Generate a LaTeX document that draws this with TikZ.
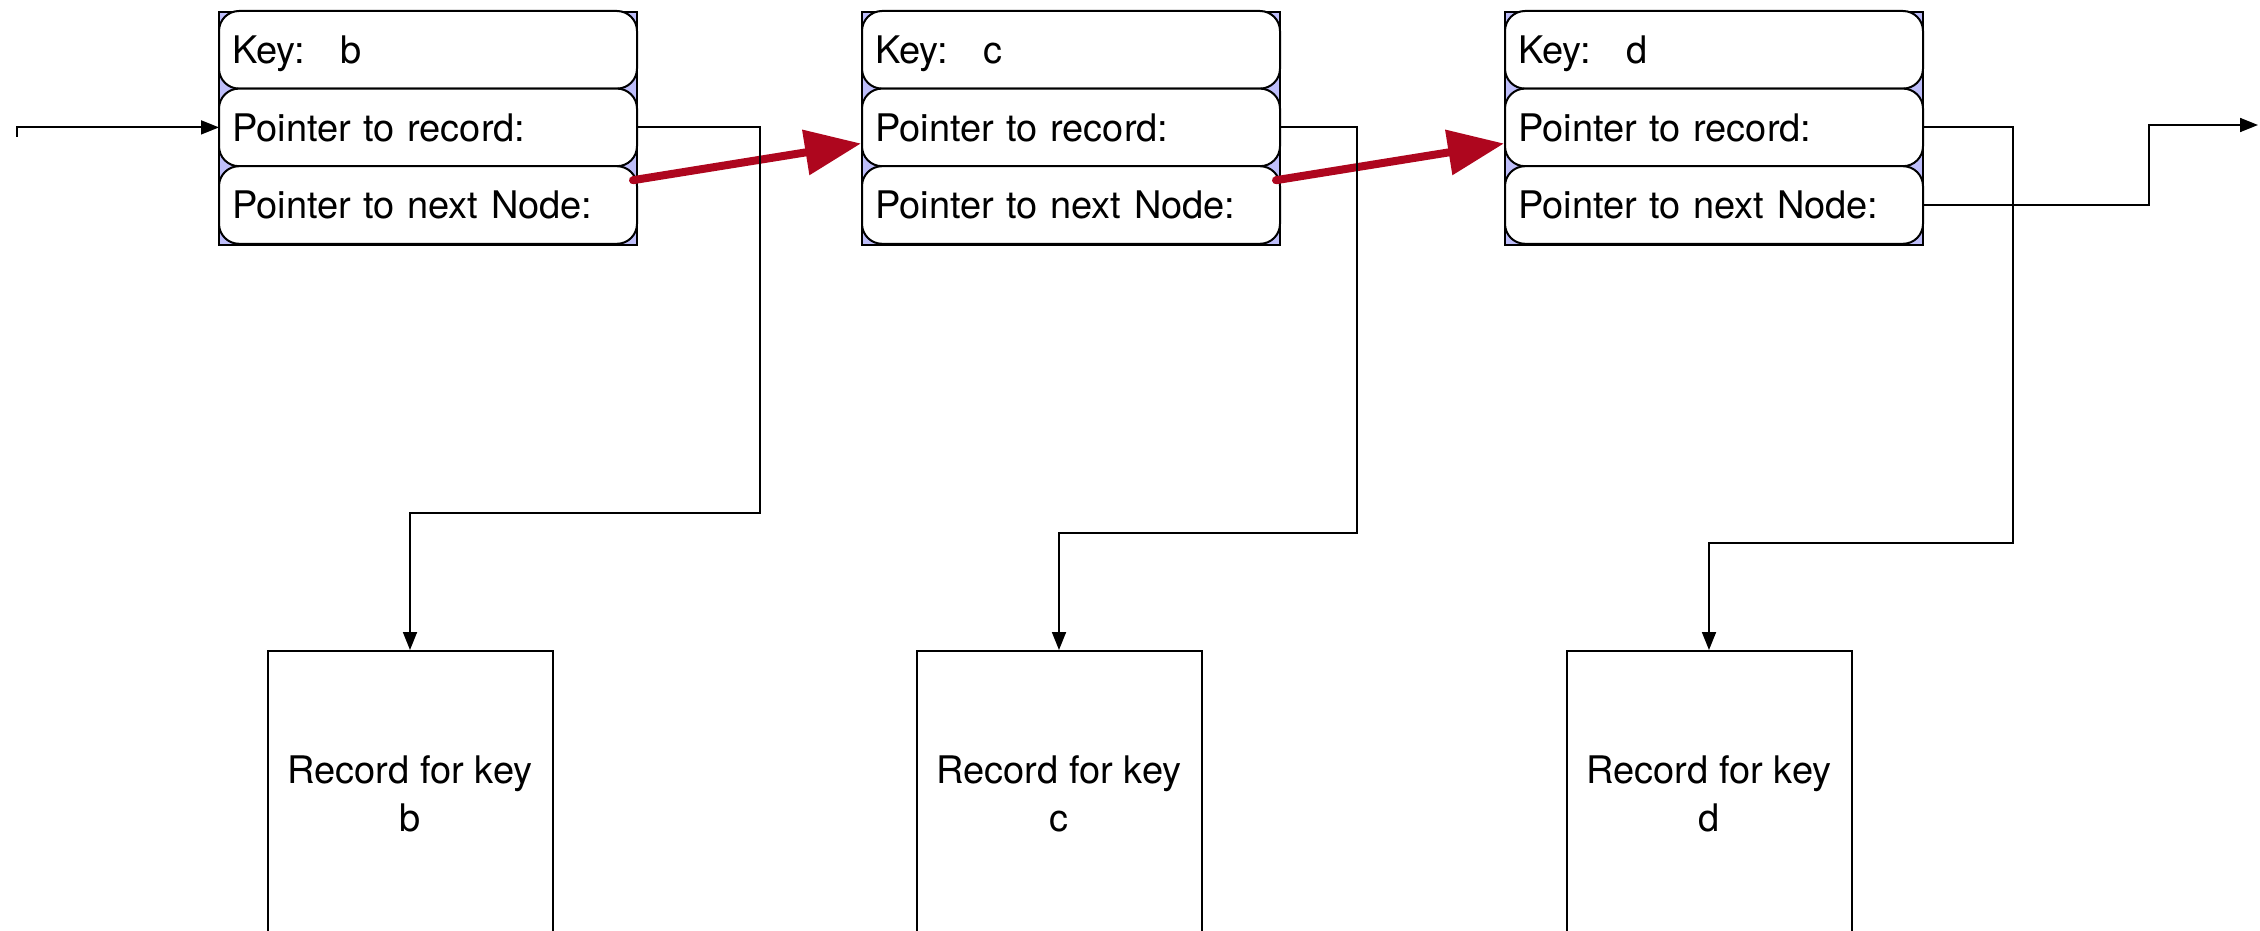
\documentclass[tikz,border=0pt]{standalone}
\usepackage{fontspec}
\setmainfont{TeX Gyre Heros}
\usetikzlibrary{positioning,calc,arrows.meta}
\definecolor{lav}{RGB}{190,190,250}
\definecolor{ptrred}{RGB}{174,6,30}

\begin{document}
\begin{tikzpicture}[x=1pt, y=-1pt,
    listnode/.style={draw, line width=2pt, fill=lav, minimum width=418pt, minimum height=233pt, inner sep=0pt},
    field/.style={draw, line width=2pt, fill=white, rounded corners=20pt, minimum height=77.6pt,
                  text width=392pt, text depth=0pt, inner xsep=13pt, inner ysep=0pt, outer sep=0pt, align=left,
                  font=\fontsize{38}{47.5}\selectfont},
    record/.style={draw, line width=2pt, minimum width=285pt, minimum height=286pt, align=center,
                   font=\fontsize{38}{47.5}\selectfont},
    ptr/.style={draw, line width=1.8pt, -{Triangle[length=18pt,width=14pt]}},
    nextptr/.style={draw=ptrred, line width=8pt, line cap=round, -{Triangle[length=56pt,width=44pt]}}]
  \useasboundingbox (0,0) rectangle (2260,931);

  % list nodes
  \node[listnode] (b) at (428,128.5) {};
  \node[field, anchor=north] (bkey) at (b.north) {Key:\hspace{35pt}b};
  \node[field, below=0pt of bkey] (brec) {Pointer to record:};
  \node[field, below=0pt of brec] (bnext) {Pointer to next Node:};

  \node[listnode, right=223pt of b] (c) {};
  \node[field, anchor=north] (ckey) at (c.north) {Key:\hspace{35pt}c};
  \node[field, below=0pt of ckey] (crec) {Pointer to record:};
  \node[field, below=0pt of crec] (cnext) {Pointer to next Node:};

  \node[listnode, right=223pt of c] (d) {};
  \node[field, anchor=north] (dkey) at (d.north) {Key:\hspace{35pt}d};
  \node[field, below=0pt of dkey] (drec) {Pointer to record:};
  \node[field, below=0pt of drec] (dnext) {Pointer to next Node:};

  % records
  \node[record, anchor=north] (rb) at (410,650) {Record for key\\b};
  \node[record, anchor=north] (rc) at (1059,650) {Record for key\\c};
  \node[record, anchor=north] (rd) at (1709,650) {Record for key\\d};

  % next pointers
  \draw[nextptr] ($(bnext.north east)+(-4,14)$) -- ($(c.west)+(0,15)$);
  \draw[nextptr] ($(cnext.north east)+(-4,14)$) -- ($(d.west)+(0,15)$);

  % record pointers
  \draw[ptr] (brec.east) -| (760,513) -| (rb.north);
  \draw[ptr] (crec.east) -| (1357,533) -| (rc.north);
  \draw[ptr] (drec.east) -| (2013,543) -| (rd.north);

  % in and out
  \coordinate (head) at (17,137);
  \coordinate (tail) at (2258,125);
  \draw[ptr] (head) |- (brec.west);
  \draw[ptr] (dnext.east) -| ($(tail)+(-109,0)$) -- (tail);
\end{tikzpicture}
\end{document}
